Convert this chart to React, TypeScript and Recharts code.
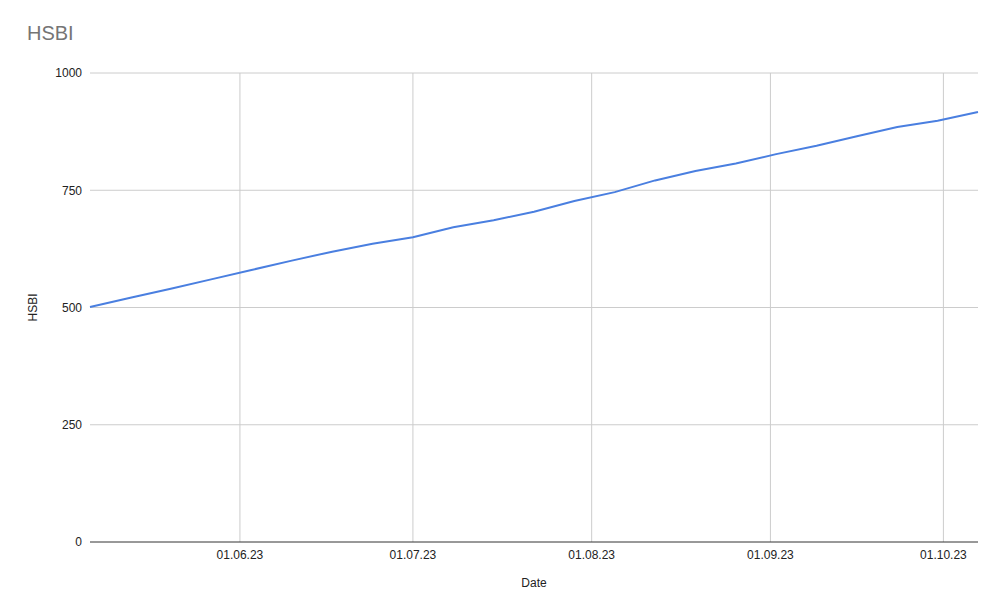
import React from "react";
import {
  LineChart,
  Line,
  XAxis,
  YAxis,
  ReferenceLine,
  Label,
} from "recharts";

const dates = [
  "2023-05-06", "2023-05-13", "2023-05-20", "2023-05-27", "2023-06-03",
  "2023-06-10", "2023-06-17", "2023-06-24", "2023-07-01", "2023-07-08",
  "2023-07-15", "2023-07-22", "2023-07-29", "2023-08-05", "2023-08-12",
  "2023-08-19", "2023-08-26", "2023-09-02", "2023-09-09", "2023-09-16",
  "2023-09-23", "2023-09-30", "2023-10-07",
];

const hsbi = [
  501, 521, 540, 560, 580, 600, 619, 636, 650, 671, 686, 704, 727, 746, 771,
  791, 807, 827, 845, 865, 885, 898, 917,
];

const xTickDates = ["2023-06-01", "2023-07-01", "2023-08-01", "2023-09-01", "2023-10-01"];
const yTicks = [0, 250, 500, 750, 1000];

const toTime = (s: string) => Date.parse(s + "T00:00:00Z");

const data = dates.map((d, i) => ({ t: toTime(d), hsbi: hsbi[i] }));
const xTicks = xTickDates.map(toTime);
const t0 = data[0].t;
const t1 = data[data.length - 1].t;

const fmtDate = (v: number) => {
  const d = new Date(v);
  const dd = String(d.getUTCDate()).padStart(2, "0");
  const mm = String(d.getUTCMonth() + 1).padStart(2, "0");
  const yy = String(d.getUTCFullYear()).slice(2);
  return `${dd}.${mm}.${yy}`;
};

const font = "Arial, 'Liberation Sans', sans-serif";
const gridColor = "#cccccc";

export default function App() {
  return (
    <div
      style={{
        position: "absolute",
        left: 0,
        top: 0,
        width: 1001,
        height: 614,
        background: "#fff",
        fontFamily: font,
      }}
    >
      <div
        style={{
          position: "absolute",
          left: 27,
          top: 22,
          fontSize: 20,
          color: "#757575",
          fontFamily: font,
        }}
      >
        HSBI
      </div>
      <LineChart
        width={1001}
        height={614}
        data={data}
        margin={{ top: 73, right: 23, left: 0, bottom: 0 }}
      >
        {/* grid lines: horizontal at the value ticks (0 is the axis line), vertical at the date ticks */}
        {yTicks
          .filter((v) => v > 0)
          .map((v) => (
            <ReferenceLine key={"y" + v} y={v} stroke={gridColor} strokeWidth={1} />
          ))}
        {xTicks.map((t) => (
          <ReferenceLine key={t} x={t} stroke={gridColor} strokeWidth={1} />
        ))}
        <XAxis
          dataKey="t"
          type="number"
          domain={[t0, t1]}
          ticks={xTicks}
          tickFormatter={fmtDate}
          tickLine={false}
          axisLine={{ stroke: "#333333" }}
          tick={{ fill: "#222222", fontSize: 12, fontFamily: font }}
          height={72}
        >
          <Label
            content={({ viewBox }: any) => (
              <text
                x={viewBox.x + viewBox.width / 2}
                y={587}
                textAnchor="middle"
                fill="#222222"
                fontSize={12}
                fontFamily={font}
              >
                Date
              </text>
            )}
          />
        </XAxis>
        <YAxis
          domain={[0, 1000]}
          ticks={yTicks}
          tickLine={false}
          axisLine={false}
          width={90}
          tick={{ fill: "#222222", fontSize: 12, fontFamily: font }}
        >
          <Label
            content={({ viewBox }: any) => (
              <text
                x={37}
                y={viewBox.y + viewBox.height / 2}
                transform={`rotate(-90 37 ${viewBox.y + viewBox.height / 2})`}
                textAnchor="middle"
                fill="#222222"
                fontSize={12}
                fontFamily={font}
              >
                HSBI
              </text>
            )}
          />
        </YAxis>
        <Line
          type="linear"
          dataKey="hsbi"
          stroke="#4a7fe0"
          strokeWidth={2}
          dot={false}
          isAnimationActive={false}
        />
      </LineChart>
    </div>
  );
}
